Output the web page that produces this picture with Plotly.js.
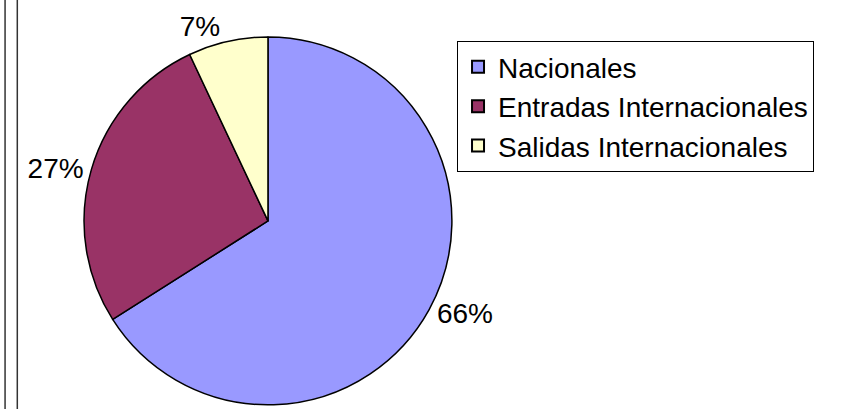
<!DOCTYPE html>
<html>
<head>
<meta charset="utf-8">
<script src="https://cdn.plot.ly/plotly-3.0.1.min.js"></script>
<style>
  html, body { margin: 0; padding: 0; background: #fff; }
  #chart { width: 844px; height: 411px; }
</style>
</head>
<body>
<div id="chart"></div>
<script>
var labels = ['Nacionales', 'Entradas Internacionales', 'Salidas Internacionales']
var values = [66, 27, 7]
var colors = ['#9999FF', '#993366', '#FFFFCC']

var data = [{
    type: 'pie',
    labels: labels,
    values: values,
    sort: false,
    direction: 'clockwise',
    rotation: 0,
    textinfo: 'percent',
    textposition: 'outside',
    outsidetextfont: { family: 'Liberation Sans, Arial, sans-serif', size: 28, color: '#000' },
    marker: { colors: colors, line: { color: '#000', width: 1.5 } },
    domain: { x: [0.0995, 0.5355], y: [0.015, 0.91] },
    hoverinfo: 'none'
}]

var layout = {
    width: 844,
    height: 411,
    margin: { l: 0, r: 0, t: 0, b: 0 },
    paper_bgcolor: '#fff',
    font: { family: 'Liberation Sans, Arial, sans-serif', color: '#000' },
    showlegend: true,
    legend: {
        x: 0.5415,
        y: 0.9,
        xanchor: 'left',
        yanchor: 'top',
        bgcolor: '#fff',
        bordercolor: '#000',
        borderwidth: 1,
        font: { size: 28, color: '#000' },
        itemwidth: 30,
        itemsizing: 'constant'
    },
    // double frame line on the left edge
    shapes: [
        { type: 'line', xref: 'paper', yref: 'paper', x0: 0.006, x1: 0.006, y0: 0.005, y1: 1, line: { color: '#333', width: 1.5 } },
        { type: 'line', xref: 'paper', yref: 'paper', x0: 0.0205, x1: 0.0205, y0: 0.005, y1: 1, line: { color: '#333', width: 1.5 } }
    ]
}

Plotly.newPlot('chart', data, layout, { staticPlot: true })
</script>
</body>
</html>
